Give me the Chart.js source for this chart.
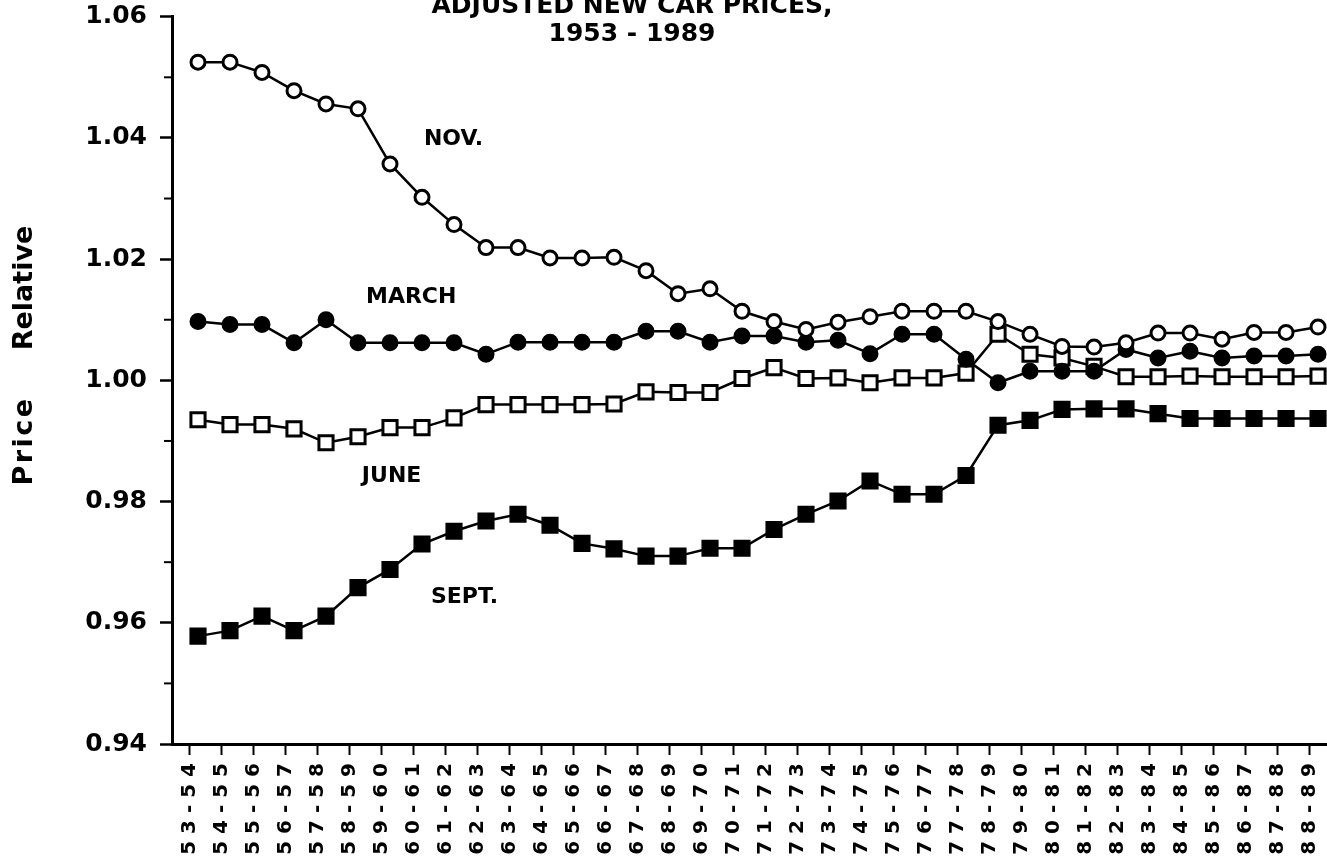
<!DOCTYPE html>
<html lang="en">
<head>
<meta charset="UTF-8" />
<title>Adjusted New Car Prices, 1953 - 1989</title>
<script src="https://cdn.jsdelivr.net/npm/chart.js"></script>
<style>
  html, body { margin: 0; padding: 0; background: #fff; }
  #wrap { width: 1327px; height: 859px; }
</style>
</head>
<body>
<div id="wrap"><canvas id="carChart"></canvas></div>
<script>
const seasons = ["53-54","54-55","55-56","56-57","57-58","58-59","59-60","60-61","61-62",
  "62-63","63-64","64-65","65-66","66-67","67-68","68-69","69-70","70-71","71-72","72-73",
  "73-74","74-75","75-76","76-77","77-78","78-79","79-80","80-81","81-82","82-83","83-84",
  "84-85","85-86","86-87","87-88","88-89"];

const novPrices = [1.0525, 1.0525, 1.0508, 1.0478, 1.0456, 1.0448, 1.0357, 1.0302, 1.0257,
  1.0219, 1.0219, 1.0202, 1.0202, 1.0203, 1.0181, 1.0143, 1.0151, 1.0114, 1.0097, 1.0084,
  1.0096, 1.0105, 1.0114, 1.0114, 1.0114, 1.0097, 1.0076, 1.0056, 1.0055, 1.0062, 1.0078,
  1.0078, 1.0068, 1.0079, 1.0079, 1.0088];

const marchPrices = [1.0097, 1.0092, 1.0092, 1.0062, 1.0100, 1.0062, 1.0062, 1.0062, 1.0062,
  1.0043, 1.0063, 1.0063, 1.0063, 1.0063, 1.0081, 1.0081, 1.0063, 1.0073, 1.0073, 1.0063,
  1.0066, 1.0044, 1.0076, 1.0076, 1.0035, 0.9996, 1.0015, 1.0015, 1.0015, 1.0051, 1.0037,
  1.0048, 1.0037, 1.0040, 1.0040, 1.0043];

const junePrices = [0.9935, 0.9927, 0.9927, 0.9920, 0.9897, 0.9907, 0.9922, 0.9922, 0.9938,
  0.9960, 0.9960, 0.9960, 0.9960, 0.9961, 0.9981, 0.9980, 0.9980, 1.0003, 1.0021, 1.0003,
  1.0004, 0.9996, 1.0004, 1.0004, 1.0012, 1.0076, 1.0043, 1.0037, 1.0023, 1.0006, 1.0006,
  1.0007, 1.0006, 1.0006, 1.0006, 1.0007];

const septPrices = [0.9578, 0.9587, 0.9611, 0.9587, 0.9611, 0.9658, 0.9688, 0.9730, 0.9751,
  0.9768, 0.9779, 0.9761, 0.9731, 0.9722, 0.9710, 0.9710, 0.9723, 0.9723, 0.9754, 0.9779,
  0.9801, 0.9834, 0.9812, 0.9812, 0.9843, 0.9926, 0.9934, 0.9952, 0.9953, 0.9953, 0.9945,
  0.9937, 0.9937, 0.9937, 0.9937, 0.9937];

const yTickLabels = ["0.94", "0.96", "0.98", "1.00", "1.02", "1.04", "1.06"];
const titleLines = ["ADJUSTED NEW CAR PRICES,", "1953 - 1989"];

const FONT = '"DejaVu Sans", sans-serif';

// line labels, placed in data units (x = season index, y = price relative)
const notes = [
  { text: "NOV.", x: 7.06, y: 1.0389 },
  { text: "MARCH", x: 5.25, y: 1.0128 },
  { text: "JUNE", x: 5.12, y: 0.9832 },
  { text: "SEPT.", x: 7.28, y: 0.9632 },
];

function series(label, values, style, filled) {
  return {
    label,
    data: values.map((v, i) => ({ x: i, y: v })),
    borderColor: "#000",
    borderWidth: 2.5,
    pointStyle: style,
    pointRadius: style === "rect" ? 10 : 7,
    pointBorderWidth: 3,
    pointBackgroundColor: filled ? "#000" : "#fff",
    pointBorderColor: "#000",
    tension: 0,
    fill: false,
  };
}

const extras = {
  id: "extras",
  afterDraw(chart) {
    const ctx = chart.ctx;
    const xs = chart.scales.x, ys = chart.scales.y;
    ctx.save();
    ctx.fillStyle = "#000";
    ctx.strokeStyle = "#000";

    // minor ticks on the price axis
    ctx.lineWidth = 2;
    for (let i = 0; i < yTickLabels.length - 1; i++) {
      const mid = (parseFloat(yTickLabels[i]) + parseFloat(yTickLabels[i + 1])) / 2;
      const py = ys.getPixelForValue(mid);
      ctx.beginPath();
      ctx.moveTo(xs.left - 8, py);
      ctx.lineTo(xs.left, py);
      ctx.stroke();
    }

    // title (top line runs off the page as in the scan)
    ctx.font = `bold 25px ${FONT}`;
    ctx.textAlign = "center";
    ctx.textBaseline = "alphabetic";
    ctx.fillText(titleLines[0], 632, 12.7);
    ctx.fillText(titleLines[1], 632, 40.7);

    // series names
    ctx.font = `bold 22px ${FONT}`;
    ctx.textAlign = "left";
    notes.forEach(n => {
      ctx.fillText(n.text, xs.getPixelForValue(n.x), ys.getPixelForValue(n.y));
    });

    // vertical axis title
    ctx.font = `bold 27px ${FONT}`;
    ctx.textAlign = "center";
    const word = (t, cy, spacing) => {
      ctx.save();
      ctx.translate(32, cy);
      ctx.rotate(-Math.PI / 2);
      ctx.letterSpacing = spacing;
      ctx.fillText(t, 0, 0);
      ctx.restore();
    };
    word("Price", 441, "2.5px");
    word("Relative", 288, "0px");
    ctx.restore();
  },
};

new Chart(document.getElementById("carChart"), {
  type: "line",
  data: {
    datasets: [
      series("NOV.", novPrices, "circle", false),
      series("MARCH", marchPrices, "circle", true),
      series("JUNE", junePrices, "rect", false),
      series("SEPT.", septPrices, "rect", true),
    ],
  },
  options: {
    responsive: true,
    maintainAspectRatio: false,
    devicePixelRatio: 1,
    animation: false,
    layout: { autoPadding: false, padding: { top: 16.7, right: 0, bottom: 0, left: 0 } },
    plugins: { legend: { display: false }, tooltip: { enabled: false } },
    scales: {
      x: {
        type: "linear",
        min: -0.8125,
        max: 35.28,
        afterBuildTicks: s => { s.ticks = seasons.map((_, i) => ({ value: i - 0.27 })); },
        afterFit: s => { s.height = 115; s.paddingLeft = 0; s.paddingRight = 0; },
        grid: { drawOnChartArea: false, drawTicks: true, tickLength: 11, tickWidth: 2, tickColor: "#000" },
        border: { display: true, color: "#000", width: 3 },
        ticks: {
          autoSkip: false,
          maxRotation: 90,
          minRotation: 90,
          padding: 8,
          color: "#000",
          font: { family: FONT, size: 20, weight: "bold" },
          callback: (v, i) => seasons[i].split("").join(" "),
        },
      },
      y: {
        type: "linear",
        min: 0.94,
        max: 1.06,
        afterBuildTicks: s => { s.ticks = yTickLabels.map(t => ({ value: parseFloat(t) })); },
        afterFit: s => { s.width = 172; s.paddingTop = 0; s.paddingBottom = 0; },
        grid: { drawOnChartArea: false, drawTicks: true, tickLength: 12, tickWidth: 2.5, tickColor: "#000" },
        border: { display: true, color: "#000", width: 3 },
        ticks: {
          padding: 13,
          color: "#000",
          font: { family: FONT, size: 25, weight: "bold" },
          callback: (v, i) => yTickLabels[i],
        },
      },
    },
  },
  plugins: [extras],
});
</script>
</body>
</html>
